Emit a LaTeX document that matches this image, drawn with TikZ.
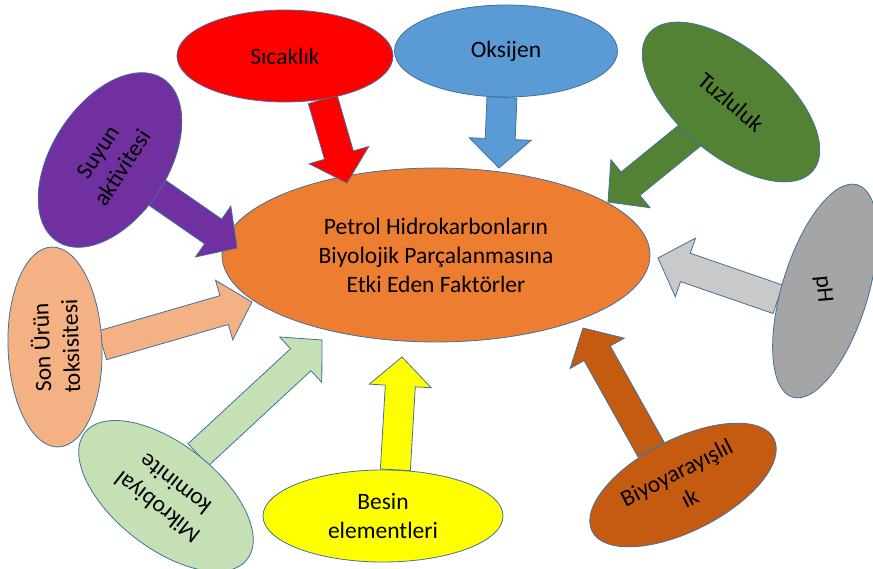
\documentclass[tikz,border=0pt]{standalone}
\usepackage{fontspec}
\setmainfont{Carlito}
\usetikzlibrary{shapes.geometric,calc}

\definecolor{outl}{HTML}{41719C}
\definecolor{cMain}{HTML}{ED7D31}
\definecolor{cSic}{HTML}{FF0000}
\definecolor{cOks}{HTML}{5B9BD5}
\definecolor{cTuz}{HTML}{548235}
\definecolor{cPh}{HTML}{A5A5A5}
\definecolor{cPhA}{HTML}{C9C9C9}
\definecolor{cBiy}{HTML}{C55A11}
\definecolor{cBes}{HTML}{FFFF00}
\definecolor{cMik}{HTML}{C5E0B4}
\definecolor{cSon}{HTML}{F4B183}
\definecolor{cSuy}{HTML}{7030A0}

\pgfdeclarelayer{bottom}
\pgfdeclarelayer{arrows}
\pgfsetlayers{bottom,arrows,main}

% block arrow: #1 fill, #2 from, #3 tip
\newcommand\factorarrow[3]{%
  \coordinate (fa-s) at (#2);
  \coordinate (fa-t) at (#3);
  \coordinate (fa-h) at ($(fa-t)!29pt!(fa-s)$);
  \filldraw[factor arrow, fill=#1]
    ($(fa-s)!15pt!90:(fa-t)$) -- ($(fa-h)!15pt!90:(fa-t)$)
    -- ($(fa-h)!31pt!90:(fa-t)$) -- (fa-t)
    -- ($(fa-h)!31pt!-90:(fa-t)$) -- ($(fa-h)!15pt!-90:(fa-t)$)
    -- ($(fa-s)!15pt!-90:(fa-t)$) -- cycle;
}

\begin{document}
\begin{tikzpicture}[x=1pt,y=-1pt,
  factor/.style={ellipse, draw=outl, line width=0.8pt, inner sep=0pt, align=center,
    font=\fontsize{23.5}{29}\selectfont},
  factor arrow/.style={draw=outl, line width=0.8pt, line join=miter}]
\useasboundingbox (0,0) rectangle (873,569);

% central ellipse
\begin{pgfonlayer}{bottom}
\node[factor, fill=cMain, minimum width=428pt, minimum height=174pt] (main) at (436,255)
  {Petrol Hidrokarbonların\\Biyolojik Parçalanmasına\\Etki Eden Faktörler};
\end{pgfonlayer}

% factors, clockwise from the top
\node[factor, fill=cSic, minimum width=216pt, minimum height=92pt] (sic) at (285,56) {Sıcaklık};
\node[factor, fill=cOks, minimum width=223pt, minimum height=92pt] (oks) at (506,51) {Oksijen};
\node[factor, fill=cTuz, minimum width=214pt, minimum height=106pt, rotate=-40] (tuz) at (731,102) {Tuzluluk};
\node[factor, fill=cPh, minimum width=222pt, minimum height=86pt, rotate=73] (phE) at (825,291) {};
\node[font=\fontsize{23.5}{29}\selectfont, rotate=-85] (ph) at (823,289) {pH};
\node[factor, fill=cBiy, minimum width=204pt, minimum height=92pt, rotate=27] (biy) at (683,485) {Biyoyarayışlıl\\ık};
\node[factor, fill=cBes, minimum width=240pt, minimum height=92pt] (bes) at (383,516) {Besin\\elementleri};
\node[factor, fill=cMik, minimum width=206pt, minimum height=104pt, rotate=142] (mik) at (166,496) {Mikrobiyal\\kominite};
\node[factor, fill=cSon, minimum width=200pt, minimum height=94pt, rotate=92] (son) at (55,347) {Son Ürün\\toksisitesi};
\node[factor, fill=cSuy, minimum width=194pt, minimum height=116pt, rotate=57] (suy) at (110,160) {Suyun\\aktivitesi};

% arrow tips
\coordinate (tSic) at (347,183);
\coordinate (tOks) at (499,168);
\coordinate (tTuz) at (608,202);
\coordinate (tPh) at (658,258);
\coordinate (tBiy) at (583,328);
\coordinate (tBes) at (402,357);
\coordinate (tMik) at (322,340);
\coordinate (tSon) at (252,302);
\coordinate (tSuy) at (237,248);

\begin{pgfonlayer}{arrows}
\factorarrow{cSic}{sic.-49}{tSic}
\factorarrow{cOks}{oks.-95}{tOks}
\factorarrow{cTuz}{tuz}{tTuz}
\factorarrow{cPhA}{phE.117}{tPh}
\factorarrow{cBiy}{biy.105}{tBiy}
\factorarrow{cBes}{bes.75}{tBes}
\factorarrow{cMik}{mik.south}{tMik}
\factorarrow{cSon}{son.south}{tSon}
\factorarrow{cSuy}{suy}{tSuy}
\end{pgfonlayer}
\end{tikzpicture}
\end{document}
